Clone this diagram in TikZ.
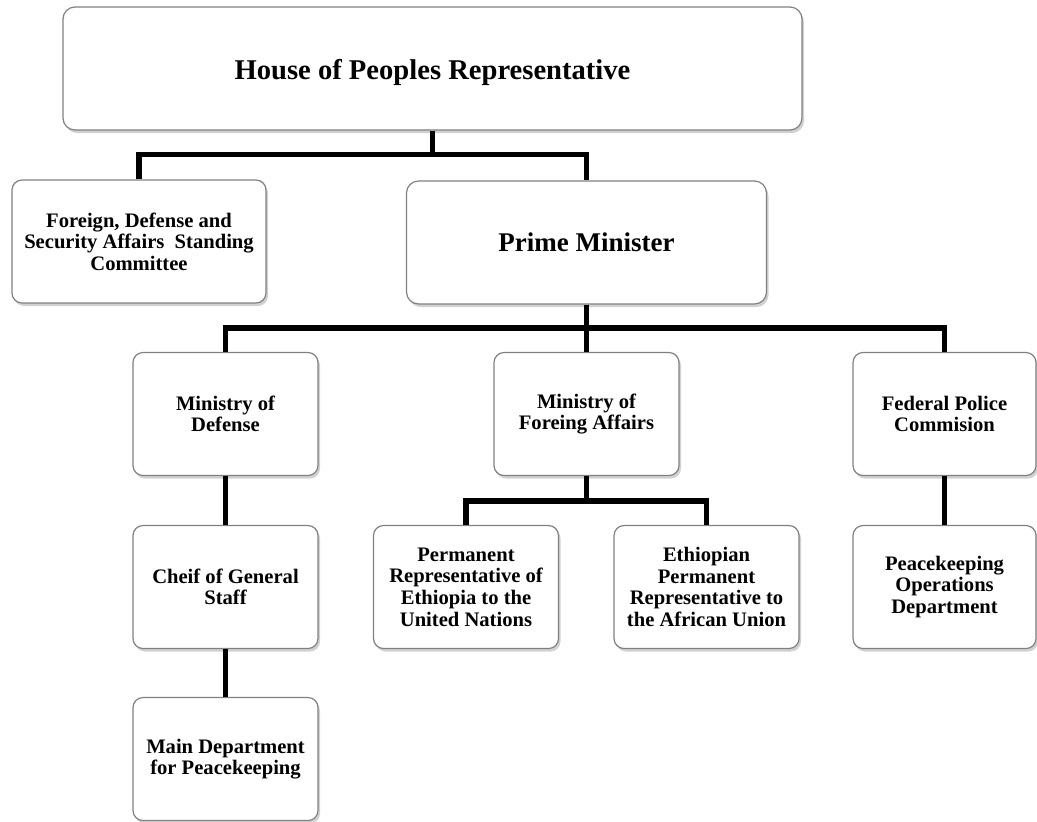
\documentclass[tikz,border=0pt]{standalone}
\usepackage{fontspec}
\setmainfont{Liberation Serif}
\usepackage{tikz}
\usetikzlibrary{shadows}

\begin{document}
\begin{tikzpicture}[x=0.5pt, y=0.5pt,
  unit/.style={rectangle, draw=black!50, line width=0.6pt, fill=white,
    rounded corners=5pt, align=center, inner sep=2pt,
    minimum width=92.5pt, minimum height=61.5pt,
    font=\fontsize{10.3}{10.8}\selectfont\bfseries,
    drop shadow={shadow xshift=1pt, shadow yshift=-1.5pt, opacity=0.3, fill=black!60}},
  top/.style={unit, rounded corners=6pt, font=\fontsize{14.3}{16}\selectfont\bfseries},
  link/.style={draw=black, line width=2.6pt},
  ]
  \useasboundingbox (0,0) rectangle (1037,-821);

  % top levels
  \node[top, minimum width=369.5pt, text height=12.5pt, text depth=2pt] (hpr) at (432.5,-68.5) {House of Peoples Representative};
  \node[unit, minimum width=127pt] (committee) at (139,-241.5)
    {Foreign, Defense and\\Security Affairs\ \ Standing\\Committee};
  \node[top, minimum width=180pt, font=\fontsize{13.5}{15}\selectfont\bfseries] (pm) at (586.5,-242.5) {Prime Minister};

  % ministries
  \node[unit] (mod) at (225.5,-414) {Ministry of\\Defense};
  \node[unit] (mfa) at (586.5,-414) {Ministry of\\Foreing Affairs};
  \node[unit, minimum width=91.5pt] (fpc) at (944.5,-414) {Federal Police\\Commision};

  % below the ministries
  \node[unit] (cgs) at (225.5,-587) {Cheif of General\\Staff};
  \node[unit] (perm) at (466,-587) {Permanent\\Representative of\\Ethiopia to the\\United Nations};
  \node[unit] (ethio) at (706.5,-587) {Ethiopian\\Permanent\\Representative to\\the African Union};
  \node[unit, minimum width=91.5pt] (pko) at (944.5,-587) {Peacekeeping\\Operations\\Department};
  \node[unit] (mdp) at (225.5,-759) {Main Department\\for Peacekeeping};

  % connectors
  \draw[link] (hpr.south) -- ++(0,-25);
  \draw[link] (committee.north) -- ++(0,25) -| (pm.north);
  \draw[link] (pm.south) -- (mfa.north);
  \draw[link] (mod.north) -- ++(0,24) -| (fpc.north);
  \draw[link] (mfa.south) -- ++(0,-26);
  \draw[link] (perm.north) -- ++(0,24) -| (ethio.north);
  \draw[link] (mod.south) -- (cgs.north);
  \draw[link] (cgs.south) -- (mdp.north);
  \draw[link] (fpc.south) -- (pko.north);
\end{tikzpicture}
\end{document}
